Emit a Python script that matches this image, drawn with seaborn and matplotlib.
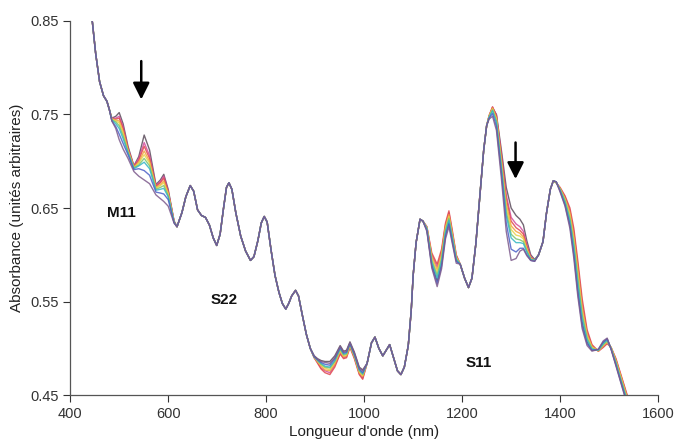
import numpy as np
import pandas as pd
import matplotlib
matplotlib.use("Agg")
import matplotlib.pyplot as plt
import seaborn as sns

# ---------------------------------------------------------------
# Spectra (absorbance vs wavelength, 9 curves)
# ---------------------------------------------------------------
series_names = ["t0", "t1", "t2", "t3", "t4", "t5", "t6", "t7", "t8"]
series_colors = ["#5b4b5b", "#d24b9e", "#e0474c", "#f2a23c", "#e9d34a",
                 "#7cc46a", "#35b6c4", "#4b5fc8", "#7d5a8c"]

# portions where all curves overlap
base_nm = [440, 445, 452, 460, 468, 475, 480,
           618, 628, 636, 645, 652, 660, 668, 676, 684, 692, 699, 706, 713,
           719, 724, 730, 738, 748, 758, 768, 775, 783, 790, 796, 802, 810,
           818, 826, 833, 840, 846, 852, 860, 866, 874, 882, 890,
           1006, 1015, 1022, 1030, 1038, 1045, 1052, 1060, 1068, 1075, 1082,
           1090, 1096, 1100, 1106, 1114, 1120,
           1196, 1205, 1213, 1220, 1228, 1236, 1244, 1250,
           1365, 1372, 1380, 1386]
base_abs = [0.870, 0.850, 0.815, 0.785, 0.770, 0.764, 0.755,
            0.630, 0.645, 0.662, 0.674, 0.668, 0.648, 0.642, 0.640, 0.632,
            0.618, 0.610, 0.622, 0.650, 0.672, 0.677, 0.670, 0.645, 0.620,
            0.604, 0.594, 0.598, 0.615, 0.634, 0.641, 0.635, 0.605, 0.578,
            0.560, 0.548, 0.542, 0.548, 0.556, 0.562, 0.556, 0.535, 0.515,
            0.500,
            0.484, 0.506, 0.512, 0.500, 0.492, 0.498, 0.504, 0.490, 0.476,
            0.472, 0.480, 0.503, 0.540, 0.578, 0.613, 0.638, 0.636,
            0.590, 0.575, 0.565, 0.575, 0.612, 0.662, 0.712, 0.738,
            0.614, 0.644, 0.670, 0.679]

# M11 region (one row per curve)
m11_nm = [485, 493, 500, 508, 518, 530, 540, 551, 562, 575, 584, 591, 600, 612]
m11_abs = [
    [0.746, 0.748, 0.752, 0.740, 0.716, 0.695, 0.705, 0.728, 0.712, 0.675, 0.680, 0.686, 0.670, 0.636],
    [0.746, 0.746, 0.748, 0.737, 0.714, 0.695, 0.703, 0.720, 0.706, 0.674, 0.678, 0.684, 0.668, 0.636],
    [0.745, 0.745, 0.746, 0.735, 0.713, 0.694, 0.701, 0.716, 0.703, 0.673, 0.677, 0.682, 0.667, 0.636],
    [0.745, 0.744, 0.743, 0.732, 0.712, 0.694, 0.699, 0.711, 0.700, 0.672, 0.675, 0.679, 0.666, 0.635],
    [0.745, 0.743, 0.741, 0.730, 0.711, 0.693, 0.698, 0.707, 0.698, 0.671, 0.674, 0.677, 0.665, 0.635],
    [0.744, 0.742, 0.738, 0.727, 0.710, 0.693, 0.696, 0.703, 0.695, 0.670, 0.672, 0.674, 0.663, 0.635],
    [0.744, 0.740, 0.735, 0.724, 0.709, 0.692, 0.695, 0.699, 0.692, 0.669, 0.670, 0.671, 0.662, 0.635],
    [0.743, 0.737, 0.729, 0.719, 0.707, 0.691, 0.692, 0.690, 0.685, 0.667, 0.666, 0.665, 0.659, 0.634],
    [0.743, 0.735, 0.723, 0.713, 0.703, 0.689, 0.684, 0.680, 0.676, 0.664, 0.660, 0.657, 0.652, 0.634],
]

# S22 trough region
s22_nm = [898, 905, 912, 920, 930, 940, 951, 958, 964, 971, 980, 990, 997]
s22_abs = [
    [0.492, 0.489, 0.487, 0.486, 0.486, 0.492, 0.503, 0.497, 0.498, 0.507, 0.496, 0.480, 0.477],
    [0.490, 0.485, 0.479, 0.476, 0.474, 0.482, 0.495, 0.490, 0.491, 0.502, 0.490, 0.473, 0.468],
    [0.490, 0.484, 0.478, 0.474, 0.472, 0.480, 0.494, 0.489, 0.490, 0.501, 0.489, 0.472, 0.467],
    [0.490, 0.486, 0.481, 0.477, 0.476, 0.483, 0.497, 0.491, 0.492, 0.503, 0.491, 0.474, 0.470],
    [0.491, 0.486, 0.482, 0.479, 0.477, 0.485, 0.498, 0.492, 0.493, 0.503, 0.492, 0.475, 0.471],
    [0.491, 0.487, 0.483, 0.480, 0.479, 0.486, 0.499, 0.493, 0.494, 0.504, 0.492, 0.476, 0.472],
    [0.491, 0.487, 0.484, 0.481, 0.480, 0.487, 0.500, 0.494, 0.495, 0.505, 0.493, 0.477, 0.473],
    [0.491, 0.488, 0.485, 0.483, 0.482, 0.489, 0.501, 0.495, 0.496, 0.505, 0.494, 0.478, 0.474],
    [0.492, 0.488, 0.486, 0.485, 0.484, 0.490, 0.502, 0.496, 0.497, 0.506, 0.495, 0.479, 0.476],
]

# double peak around 1150 nm
e11_nm = [1128, 1138, 1149, 1158, 1166, 1173, 1180, 1188]
e11_abs = [
    [0.627, 0.590, 0.572, 0.591, 0.622, 0.635, 0.616, 0.594],
    [0.630, 0.600, 0.587, 0.603, 0.632, 0.645, 0.624, 0.599],
    [0.630, 0.602, 0.590, 0.606, 0.634, 0.647, 0.626, 0.600],
    [0.629, 0.598, 0.584, 0.601, 0.630, 0.643, 0.622, 0.598],
    [0.629, 0.596, 0.581, 0.598, 0.628, 0.641, 0.621, 0.597],
    [0.628, 0.594, 0.578, 0.596, 0.626, 0.639, 0.619, 0.596],
    [0.628, 0.592, 0.575, 0.593, 0.624, 0.637, 0.618, 0.595],
    [0.626, 0.588, 0.569, 0.588, 0.620, 0.633, 0.614, 0.593],
    [0.625, 0.586, 0.566, 0.585, 0.617, 0.630, 0.612, 0.591],
]

# S11 region with the shoulder that drops
s11_nm = [1255, 1262, 1270, 1280, 1290, 1300, 1310, 1318, 1325, 1332, 1340, 1348, 1356]
s11_abs = [
    [0.748, 0.757, 0.750, 0.712, 0.672, 0.650, 0.642, 0.638, 0.632, 0.615, 0.600, 0.595, 0.600],
    [0.748, 0.758, 0.749, 0.708, 0.664, 0.640, 0.633, 0.630, 0.625, 0.611, 0.598, 0.594, 0.600],
    [0.749, 0.758, 0.748, 0.705, 0.660, 0.636, 0.629, 0.626, 0.622, 0.609, 0.597, 0.594, 0.600],
    [0.748, 0.757, 0.746, 0.702, 0.655, 0.631, 0.625, 0.623, 0.619, 0.607, 0.596, 0.594, 0.600],
    [0.748, 0.756, 0.745, 0.699, 0.651, 0.627, 0.621, 0.620, 0.617, 0.606, 0.596, 0.594, 0.600],
    [0.747, 0.755, 0.743, 0.696, 0.646, 0.622, 0.617, 0.616, 0.614, 0.604, 0.595, 0.594, 0.600],
    [0.747, 0.754, 0.741, 0.693, 0.642, 0.618, 0.613, 0.613, 0.612, 0.603, 0.595, 0.594, 0.600],
    [0.746, 0.751, 0.737, 0.688, 0.634, 0.606, 0.603, 0.607, 0.607, 0.600, 0.594, 0.593, 0.600],
    [0.745, 0.748, 0.733, 0.682, 0.625, 0.594, 0.596, 0.604, 0.606, 0.599, 0.594, 0.593, 0.600],
]

# long-wavelength tail
tail_nm = [1392, 1400, 1410, 1420, 1428, 1436, 1445, 1455, 1465, 1478, 1488, 1496, 1504, 1514, 1524, 1534, 1544]
tail_abs = [
    [0.678, 0.669, 0.655, 0.634, 0.604, 0.565, 0.528, 0.507, 0.498, 0.498, 0.506, 0.510, 0.500, 0.483, 0.465, 0.448, 0.431],
    [0.677, 0.671, 0.662, 0.647, 0.624, 0.589, 0.548, 0.517, 0.503, 0.497, 0.502, 0.506, 0.501, 0.488, 0.471, 0.454, 0.437],
    [0.677, 0.672, 0.663, 0.650, 0.628, 0.594, 0.553, 0.520, 0.504, 0.497, 0.501, 0.505, 0.501, 0.489, 0.472, 0.455, 0.438],
    [0.677, 0.671, 0.660, 0.645, 0.620, 0.585, 0.544, 0.515, 0.502, 0.497, 0.503, 0.507, 0.501, 0.487, 0.470, 0.453, 0.436],
    [0.677, 0.670, 0.659, 0.642, 0.616, 0.580, 0.540, 0.513, 0.501, 0.498, 0.503, 0.507, 0.501, 0.486, 0.469, 0.451, 0.435],
    [0.677, 0.670, 0.658, 0.639, 0.612, 0.575, 0.536, 0.511, 0.500, 0.498, 0.504, 0.508, 0.500, 0.485, 0.467, 0.450, 0.433],
    [0.678, 0.669, 0.656, 0.636, 0.608, 0.570, 0.532, 0.509, 0.499, 0.498, 0.505, 0.509, 0.500, 0.484, 0.466, 0.449, 0.432],
    [0.678, 0.668, 0.653, 0.631, 0.600, 0.560, 0.524, 0.505, 0.498, 0.499, 0.507, 0.510, 0.499, 0.482, 0.464, 0.446, 0.430],
    [0.678, 0.667, 0.652, 0.628, 0.596, 0.556, 0.521, 0.503, 0.497, 0.499, 0.508, 0.511, 0.499, 0.481, 0.463, 0.445, 0.428],
]

band_labels = ["M11", "S22", "S11"]
band_label_nm = [476, 686, 1208]
band_label_abs = [0.645, 0.552, 0.484]
arrow_nm = [545, 1309]
arrow_top = [0.807, 0.720]
arrow_tip = [0.766, 0.681]

# build long-form table
zones = [(m11_nm, m11_abs), (s22_nm, s22_abs), (e11_nm, e11_abs),
         (s11_nm, s11_abs), (tail_nm, tail_abs)]
frames = []
for i, name in enumerate(series_names):
    nm = list(base_nm)
    ab = list(base_abs)
    for z_nm, z_abs in zones:
        nm += z_nm
        ab += z_abs[i]
    frames.append(pd.DataFrame({"nm": nm, "abs": ab, "curve": name}))
df = pd.concat(frames, ignore_index=True).sort_values(["curve", "nm"])

# ---------------------------------------------------------------
# Plot
# ---------------------------------------------------------------
sns.set_style("ticks")
plt.rcParams["font.family"] = ["Liberation Sans", "DejaVu Sans"]

fig, ax = plt.subplots(figsize=(6.75, 4.44), dpi=100)
fig.subplots_adjust(left=0.104, right=0.975, bottom=0.11, top=0.953)

sns.lineplot(data=df, x="nm", y="abs", hue="curve", hue_order=series_names,
             palette=series_colors, estimator=None, sort=False,
             linewidth=1.0, alpha=0.85, legend=False, ax=ax)

for lab, x, y in zip(band_labels, band_label_nm, band_label_abs):
    ax.text(x, y, lab, fontsize=11, fontweight="bold", ha="left", va="center",
            color="#111111")

for x, y0, y1 in zip(arrow_nm, arrow_top, arrow_tip):
    ax.annotate("", xy=(x, y1), xytext=(x, y0),
                arrowprops=dict(arrowstyle="-|>,head_length=1.0,head_width=0.5",
                                color="black", lw=1.8, shrinkA=0, shrinkB=0))

ax.set_xlim(400, 1600)
ax.set_ylim(0.45, 0.85)
ax.set_xticks([400, 600, 800, 1000, 1200, 1400, 1600])
ax.set_yticks([0.45, 0.55, 0.65, 0.75, 0.85])
ax.set_yticklabels(["0.45", "0.55", "0.65", "0.75", "0.85"])
ax.set_xlabel("Longueur d'onde (nm)", fontsize=11, color="#222222", labelpad=3)
ax.set_ylabel("Absorbance (unités arbitraires)", fontsize=11, color="#222222", labelpad=4)
ax.tick_params(axis="both", labelsize=10.5, colors="#333333", length=5, width=0.8)
for side in ["top", "right"]:
    ax.spines[side].set_visible(False)
for side in ["left", "bottom"]:
    ax.spines[side].set_color("#555555")
    ax.spines[side].set_linewidth(0.9)

plt.savefig("out.png", dpi=100)
plt.close()
